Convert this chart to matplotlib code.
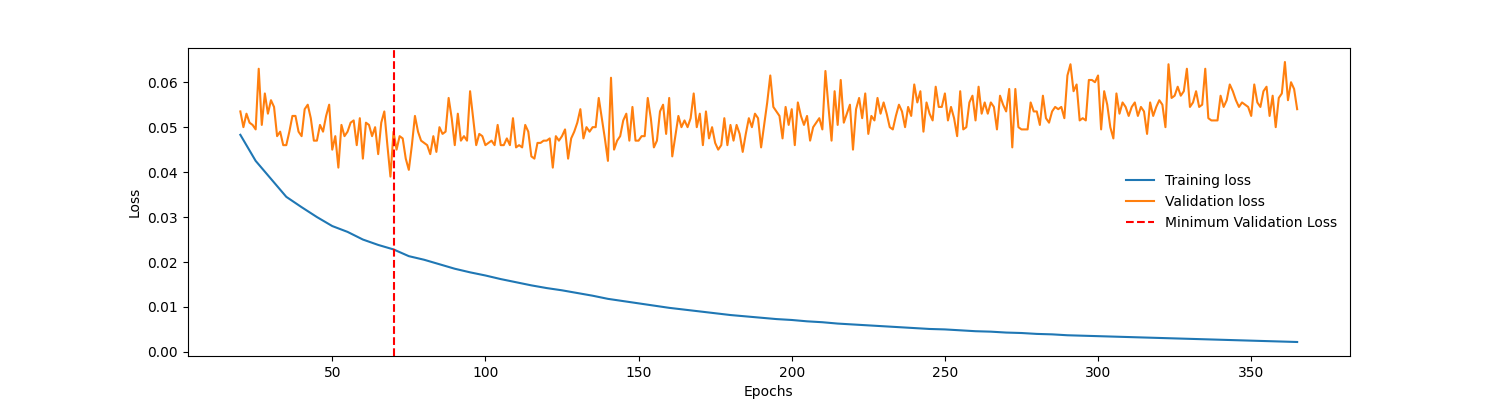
import numpy as np
import matplotlib
matplotlib.use("Agg")
import matplotlib.pyplot as plt

epochs = np.arange(20, 366)

val_loss = [
    0.0535, 0.050, 0.053, 0.051, 0.0505, 0.0495, 0.063, 0.0505, 0.0575, 0.053,
    0.056, 0.0545, 0.048, 0.049, 0.046, 0.046, 0.049, 0.0525, 0.0525, 0.049,
    0.048, 0.054, 0.055, 0.052, 0.047, 0.047, 0.0505, 0.049, 0.0525, 0.055,
    0.045, 0.048, 0.041, 0.0505, 0.048, 0.049, 0.051, 0.0515, 0.046, 0.052,
    0.043, 0.051, 0.0505, 0.048, 0.050, 0.044, 0.051, 0.0535, 0.046, 0.039,
    0.049, 0.045, 0.048, 0.0475, 0.043, 0.0405, 0.046, 0.0525, 0.049, 0.047,
    0.0465, 0.046, 0.044, 0.048, 0.0445, 0.050, 0.0485, 0.049, 0.0565, 0.052,
    0.046, 0.053, 0.047, 0.048, 0.047, 0.058, 0.052, 0.046, 0.0485, 0.048,
    0.046, 0.0465, 0.047, 0.046, 0.0505, 0.046, 0.046, 0.0475, 0.046, 0.052,
    0.0455, 0.046, 0.0455, 0.0505, 0.049, 0.0435, 0.043, 0.0465, 0.0465, 0.047,
    0.047, 0.0475, 0.041, 0.048, 0.047, 0.048, 0.0495, 0.043, 0.0475, 0.049,
    0.051, 0.054, 0.0475, 0.050, 0.049, 0.050, 0.050, 0.0565, 0.052, 0.0475,
    0.0425, 0.061, 0.045, 0.047, 0.048, 0.0515, 0.053, 0.047, 0.0545, 0.047,
    0.047, 0.048, 0.048, 0.0565, 0.052, 0.0455, 0.047, 0.0535, 0.055, 0.0485,
    0.0565, 0.0435, 0.048, 0.0525, 0.050, 0.0515, 0.050, 0.052, 0.0575, 0.050,
    0.053, 0.046, 0.0535, 0.0475, 0.050, 0.0465, 0.045, 0.046, 0.052, 0.046,
    0.0505, 0.047, 0.0505, 0.0485, 0.0445, 0.0485, 0.052, 0.050, 0.053, 0.052,
    0.0455, 0.0505, 0.0555, 0.0615, 0.0545, 0.0535, 0.0525, 0.0475, 0.0545, 0.0505,
    0.054, 0.046, 0.0555, 0.0525, 0.0505, 0.0525, 0.047, 0.050, 0.051, 0.052,
    0.0495, 0.0625, 0.0545, 0.047, 0.058, 0.0505, 0.0605, 0.051, 0.053, 0.055,
    0.045, 0.054, 0.0565, 0.052, 0.0575, 0.0485, 0.0525, 0.0515, 0.0565, 0.053,
    0.0555, 0.053, 0.050, 0.0495, 0.0525, 0.055, 0.0535, 0.050, 0.0545, 0.0525,
    0.0595, 0.0555, 0.058, 0.049, 0.0555, 0.053, 0.0515, 0.059, 0.0545, 0.0545,
    0.0575, 0.0515, 0.0545, 0.052, 0.048, 0.058, 0.0495, 0.050, 0.0555, 0.057,
    0.0515, 0.059, 0.053, 0.0555, 0.053, 0.0555, 0.0545, 0.0495, 0.057, 0.055,
    0.0535, 0.0585, 0.0455, 0.0585, 0.050, 0.0495, 0.0495, 0.0495, 0.0555, 0.0535,
    0.0535, 0.0505, 0.057, 0.052, 0.051, 0.0535, 0.0545, 0.054, 0.0545, 0.052,
    0.0615, 0.064, 0.058, 0.0595, 0.0515, 0.052, 0.0515, 0.0605, 0.0605, 0.060,
    0.0615, 0.0495, 0.058, 0.055, 0.050, 0.0475, 0.0575, 0.053, 0.0555, 0.0545,
    0.0525, 0.0545, 0.0555, 0.0525, 0.0545, 0.0535, 0.0485, 0.0555, 0.0525, 0.0545,
    0.056, 0.055, 0.050, 0.064, 0.0565, 0.057, 0.059, 0.057, 0.058, 0.063,
    0.0545, 0.0555, 0.058, 0.0545, 0.055, 0.063, 0.052, 0.0515, 0.0515, 0.0515,
    0.057, 0.0545, 0.056, 0.0595, 0.058, 0.056, 0.0545, 0.0555, 0.055, 0.0545,
    0.0525, 0.0595, 0.0555, 0.0545, 0.058, 0.059, 0.0525, 0.057, 0.050, 0.0565,
    0.0575, 0.0645, 0.056, 0.060, 0.0585, 0.054,
]

train_epochs = np.arange(20, 366, 5)
train_loss = [
    0.0483, 0.0425, 0.0385, 0.0345, 0.0322, 0.0300, 0.0280, 0.0267, 0.0250, 0.0238,
    0.0228, 0.0213, 0.0205, 0.0195, 0.0185, 0.0177, 0.0170, 0.0162, 0.0155, 0.0148,
    0.0142, 0.0137, 0.0131, 0.0125, 0.0118, 0.0113, 0.0108, 0.0103, 0.0098, 0.0094,
    0.0090, 0.0086, 0.0082, 0.0079, 0.0076, 0.0073, 0.0071, 0.0068, 0.0066, 0.0063,
    0.0061, 0.0059, 0.0057, 0.0055, 0.0053, 0.0051, 0.0050, 0.0048, 0.0046, 0.0045,
    0.0043, 0.0042, 0.0040, 0.0039, 0.0037, 0.0036, 0.0035, 0.0034, 0.0033, 0.0032,
    0.0031, 0.0030, 0.0029, 0.0028, 0.0027, 0.0026, 0.0025, 0.0024, 0.0023, 0.0022,
]

min_epoch = 70

fig, ax = plt.subplots(figsize=(15, 4), dpi=100)
ax.plot(train_epochs, train_loss, label="Training loss")
ax.plot(epochs, val_loss, label="Validation loss")
ax.axvline(min_epoch, color="red", linestyle="--", label="Minimum Validation Loss")
ax.set_xlabel("Epochs")
ax.set_ylabel("Loss")
ax.legend(loc="center right", frameon=False)
plt.savefig("out.png")
